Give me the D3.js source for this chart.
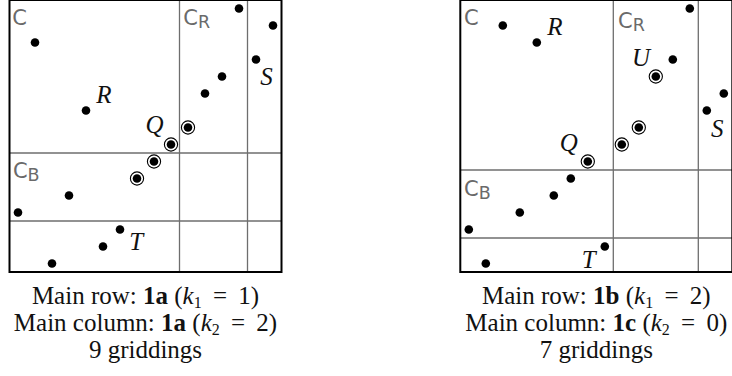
<!DOCTYPE html>
<html><head><meta charset="utf-8">
<script src="https://cdn.jsdelivr.net/npm/d3@7"></script>
<style>html,body{margin:0;padding:0;background:#fff;overflow:hidden}</style>
</head><body>
<svg id="chart" width="732" height="376"></svg>
<script>
// Panel A (left): heights from bottom (0..15) of points at columns 0..15
const panelAHeights = [3,13,0,4,9,1,2,5,6,7,8,10,11,15,12,14];
const panelACircled = [7,8,9,10];
const panelAVLines = [10,14];
const panelAHLines = [7,3];
const panelALabels = [
  {t:"C", sub:"", kind:"region", u:0.16, v:14.53},
  {t:"C", sub:"R", kind:"region", u:10.22, v:14.53},
  {t:"C", sub:"B", kind:"region", u:0.2, v:5.53},
  {t:"R", kind:"point", u:5.1, v:9.94},
  {t:"Q", kind:"point", u:8.0, v:8.18},
  {t:"S", kind:"point", u:14.75, v:11.0},
  {t:"T", kind:"point", u:7.05, v:1.29}
];
const panelACaption = [
  [{t:"Main row: "},{t:"1a",b:1},{t:" ("},{t:"k",i:1},{t:"1",s:1},{t:" \u2009=\u2009 1)"}],
  [{t:"Main column: "},{t:"1a",b:1},{t:" ("},{t:"k",i:1},{t:"2",s:1},{t:" \u2009=\u2009 2)"}],
  [{t:"9 griddings"}]
];

// Panel B (right)
const panelBHeights = [2,0,14,3,13,4,5,6,1,7,8,11,12,15,9,10];
const panelBCircled = [7,9,10,11];
const panelBVLines = [9,14];
const panelBHLines = [6,2];
const panelBLabels = [
  {t:"C", sub:"", kind:"region", u:0.22, v:14.53},
  {t:"R", kind:"point", u:5.12, v:13.94},
  {t:"C", sub:"R", kind:"region", u:9.28, v:14.35},
  {t:"U", kind:"point", u:10.1, v:12.12},
  {t:"S", kind:"point", u:14.75, v:7.94},
  {t:"Q", kind:"point", u:5.85, v:7.12},
  {t:"C", sub:"B", kind:"region", u:0.22, v:4.47},
  {t:"T", kind:"point", u:7.15, v:0.24}
];
const panelBCaption = [
  [{t:"Main row: "},{t:"1b",b:1},{t:" ("},{t:"k",i:1},{t:"1",s:1},{t:" \u2009=\u2009 2)"}],
  [{t:"Main column: "},{t:"1c",b:1},{t:" ("},{t:"k",i:1},{t:"2",s:1},{t:" \u2009=\u2009 0)"}],
  [{t:"7 griddings"}]
];

const N = 16, cell = 17;
const svg = d3.select("#chart");

function drawPanel(left, top, heights, circled, vLines, hLines, labels, caption) {
  const x = d3.scaleLinear().domain([0, N]).range([left, left + N*cell]);
  const y = d3.scaleLinear().domain([0, N]).range([top + N*cell, top]);
  const g = svg.append("g");

  g.selectAll("line.v").data(vLines).join("line")
    .attr("x1", d => x(d)).attr("x2", d => x(d))
    .attr("y1", y(0)).attr("y2", y(N))
    .attr("stroke", "#6e6e6e").attr("stroke-width", 1.3);
  g.selectAll("line.h").data(hLines).join("line")
    .attr("y1", d => y(d)).attr("y2", d => y(d))
    .attr("x1", x(0)).attr("x2", x(N))
    .attr("stroke", "#6e6e6e").attr("stroke-width", 1.3);

  g.append("rect").attr("x", x(0)).attr("y", y(N))
    .attr("width", x(N)-x(0)).attr("height", y(0)-y(N))
    .attr("fill", "none").attr("stroke", "#000").attr("stroke-width", 2);

  const pts = heights.map((h, i) => ({i, h, c: circled.includes(i)}));
  g.selectAll("circle.ring").data(pts.filter(p => p.c)).join("circle")
    .attr("cx", d => x(d.i + 0.5)).attr("cy", d => y(d.h + 0.5))
    .attr("r", 6.6).attr("fill", "#fff").attr("stroke", "#000").attr("stroke-width", 1.1);
  g.selectAll("circle.dot").data(pts).join("circle")
    .attr("cx", d => x(d.i + 0.5)).attr("cy", d => y(d.h + 0.5))
    .attr("r", 4.3).attr("fill", "#000");

  labels.forEach(l => {
    const t = g.append("text").attr("x", x(l.u)).attr("y", y(l.v));
    if (l.kind === "region") {
      t.attr("font-family", "'DejaVu Sans', sans-serif")
       .attr("font-size", 21).attr("fill", "#6a6a6a");
      t.append("tspan").text(l.t);
      if (l.sub) t.append("tspan").attr("font-size", 17.5).attr("dy", 3).text(l.sub);
    } else {
      t.attr("font-family", "'Liberation Serif', serif").attr("font-style", "italic")
       .attr("font-size", 25).attr("fill", "#111").text(l.t);
    }
  });

  const cx = (x(0) + x(N)) / 2;
  caption.forEach((line, li) => {
    const t = g.append("text").attr("x", cx).attr("y", 304 + li*27)
      .attr("text-anchor", "middle")
      .attr("font-family", "'Liberation Serif', serif").attr("font-size", 25).attr("fill", "#111");
    let shifted = false;
    line.forEach(p => {
      const s = t.append("tspan").text(p.t);
      if (p.b) s.attr("font-weight", "bold");
      if (p.i) s.attr("font-style", "italic");
      if (p.s) { s.attr("font-size", 16).attr("dy", 3.5); shifted = true; }
      else if (shifted) { s.attr("dy", -3.5); shifted = false; }
    });
  });
}

drawPanel(9.5, 0, panelAHeights, panelACircled, panelAVLines, panelAHLines, panelALabels, panelACaption);
drawPanel(460.3, 0, panelBHeights, panelBCircled, panelBVLines, panelBHLines, panelBLabels, panelBCaption);
</script>
</body></html>
